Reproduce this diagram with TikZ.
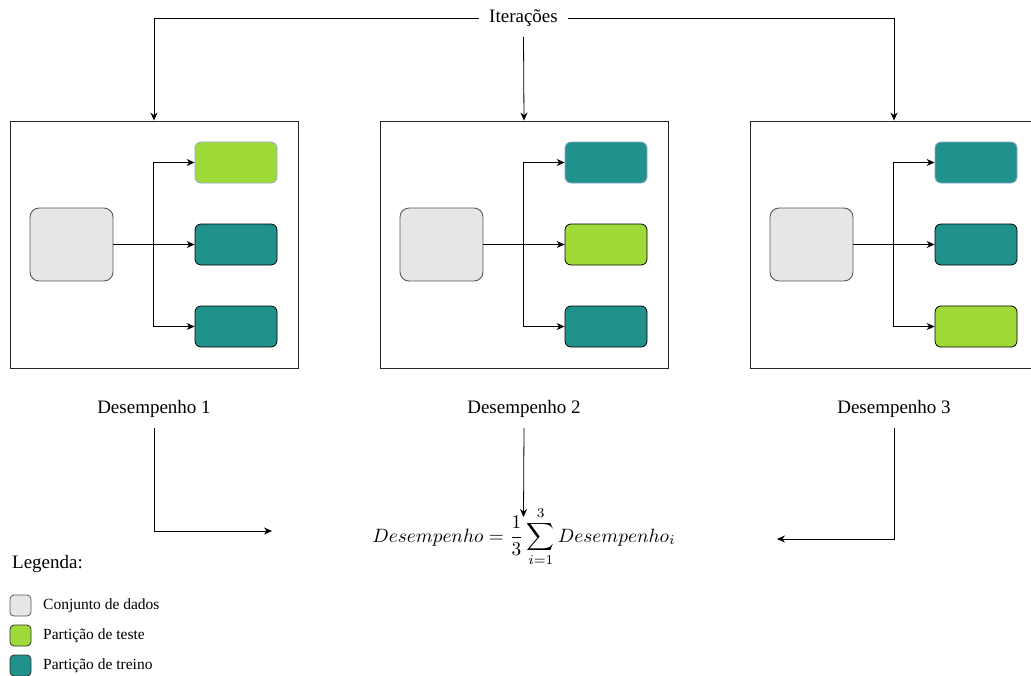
\documentclass[tikz,border=0pt]{standalone}
\usepackage{fontspec}
\setmainfont{Liberation Serif}
\usetikzlibrary{arrows.meta}

\definecolor{datafill}{HTML}{E6E6E6}
\definecolor{databorder}{HTML}{5A5A5A}
\definecolor{testfill}{HTML}{A0DA39}
\definecolor{trainfill}{HTML}{21918C}
\definecolor{softedge}{HTML}{8FA8C8}

\tikzset{
  arr/.style={-{Stealth[length=8pt,width=7pt]}, line width=0.8pt},
  panel/.style={draw=black!85, line width=0.9pt, minimum width=288pt, minimum height=247pt, inner sep=0pt},
  dataset/.style={draw=databorder, fill=datafill, line width=0.9pt, rounded corners=9pt, minimum width=83pt, minimum height=73pt, inner sep=0pt},
  part/.style={draw=black, line width=0.8pt, rounded corners=6pt, minimum width=82pt, minimum height=41pt, inner sep=0pt},
  topedge/.style={draw=softedge},
  lbl/.style={font=\fontsize{19}{22}\selectfont, inner sep=10pt},
  legtext/.style={font=\fontsize{15.5}{18}\selectfont, anchor=west, inner sep=0pt},
  legbox/.style={draw=black!80, line width=0.8pt, rounded corners=4pt, minimum width=21pt, minimum height=21pt, inner sep=0pt},
}

\begin{document}
\begin{tikzpicture}[x=1pt,y=-1pt]
\clip (0,0) rectangle (1031,675);

% three iterations: offset, fill of the three partitions
\foreach \i/\dx/\fa/\fb/\fc in {1/0/testfill/trainfill/trainfill, 2/370/trainfill/testfill/trainfill, 3/740/trainfill/trainfill/testfill}{
  \node[panel] (o\i) at (154+\dx,244.5) {};
  \node[dataset] (d\i) at (71.5+\dx,244.5) {};
  \node[part, fill=\fa, topedge] (pa\i) at (236+\dx,162.5) {};
  \node[part, fill=\fb] (pb\i) at (236+\dx,244.5) {};
  \node[part, fill=\fc] (pc\i) at (236+\dx,326.5) {};
  \coordinate (b\i) at (153+\dx,244.5);
  \draw[arr] (d\i.east) -- (pb\i.west);
  \draw[arr] (b\i) |- (pa\i.west);
  \draw[arr] (b\i) |- (pc\i.west);
  \node[lbl] (dsp\i) at (154+\dx,409) {Desempenho \i};
}

% iteration header
\node[lbl] (it) at (523.5,18) {Iterações};
\draw[arr] (it.west) -| (o1.north);
\draw[arr] (it.south) -- (o2.north);
\draw[arr] (it.east) -| (o3.north);

% average performance
\node[scale=1.93, inner sep=0pt] (avg) at (524,537) {$\displaystyle Desempenho = \frac{1}{3}\sum_{i=1}^{3} Desempenho_i$};
\coordinate (c1) at (272,531);
\coordinate (c2) at (523.5,517);
\coordinate (c3) at (777,539);
\draw[arr] (dsp1.south) |- (c1);
\draw[arr] (dsp2.south) -- (c2);
\draw[arr] (dsp3.south) |- (c3);

% legend
\node[font=\fontsize{19}{22}\selectfont, anchor=west, inner sep=0pt] (leg) at (12,564) {Legenda:};
\node[legbox, fill=datafill, draw=databorder] (k1) at (20.5,605.5) {};
\node[legbox, fill=testfill] (k2) at (20.5,635.5) {};
\node[legbox, fill=trainfill] (k3) at (20.5,665.5) {};
\node[legtext] (t1) at (43,605.5) {Conjunto de dados};
\node[legtext] (t2) at (43,635.5) {Partição de teste};
\node[legtext] (t3) at (43,665.5) {Partição de treino};
\end{tikzpicture}
\end{document}
